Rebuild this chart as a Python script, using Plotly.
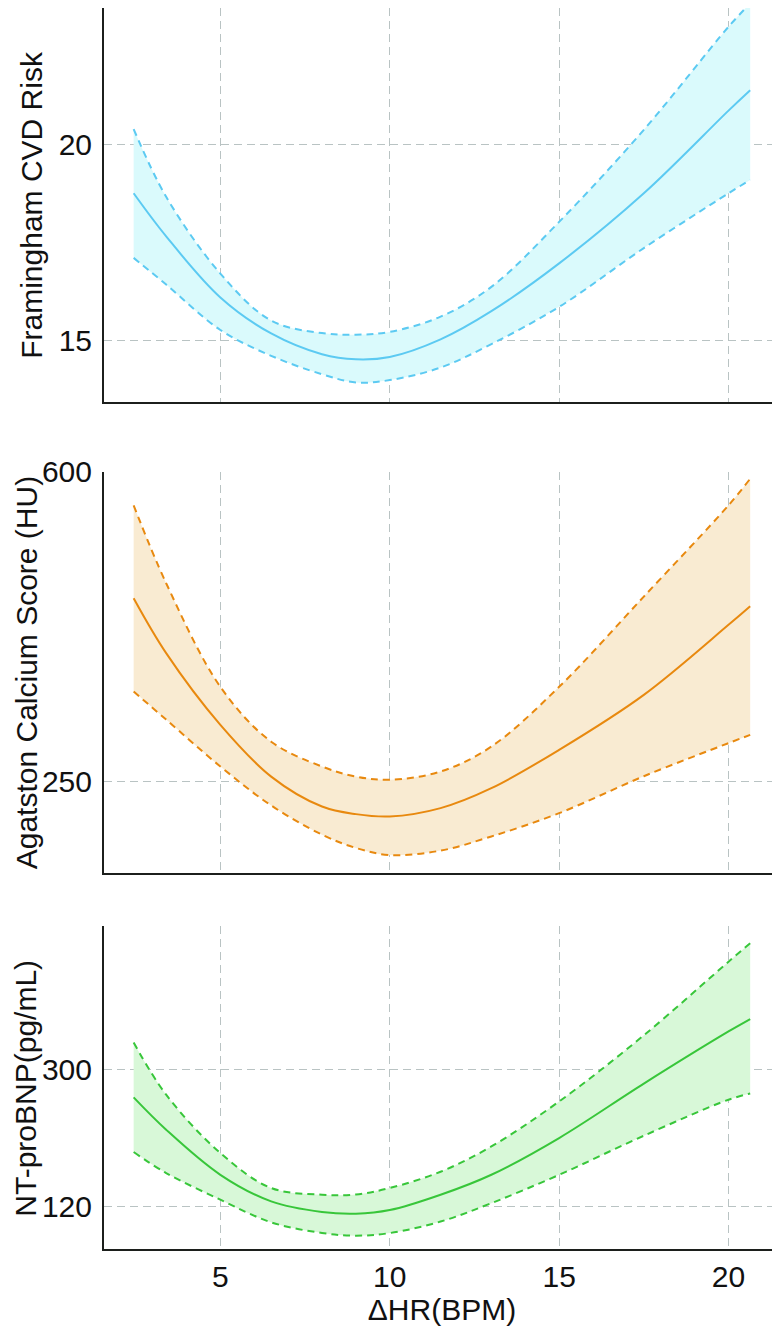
import plotly.graph_objects as go

# ---------------- data ----------------
hr = [2.44, 3.4, 5, 6.5, 8, 9, 10, 11.5, 13, 15, 17.5, 20, 20.64]

fram_mean = [18.75, 17.65, 16.09, 15.17, 14.64, 14.51, 14.57, 15.02, 15.74, 16.96, 18.75, 20.86, 21.38]
fram_upper = [20.39, 18.66, 16.70, 15.50, 15.18, 15.14, 15.21, 15.60, 16.36, 18.02, 20.37, 23.0, 23.6]
fram_lower = [17.10, 16.42, 15.26, 14.60, 14.13, 13.92, 13.98, 14.30, 14.90, 15.85, 17.35, 18.75, 19.09]

cac_mean = [457, 395, 314, 255.6, 221.8, 213.2, 210.5, 220, 242.5, 285.8, 347.9, 427, 448]
cac_upper = [562, 474, 357, 295, 267, 255.6, 252, 261.3, 289.5, 357, 458.9, 562, 592]
cac_lower = [351.6, 320, 267, 223, 190, 175, 167, 172, 188, 214.3, 256, 293.4, 302.7]

bnp_mean = [263, 220.8, 162, 127.3, 113.5, 111.3, 116, 136, 162.1, 210, 281, 349, 365.2]
bnp_upper = [334.7, 266.5, 190.4, 144.8, 136, 136.4, 144.8, 166, 199, 257.7, 344, 440, 464]
bnp_lower = [191.7, 164.3, 129.5, 100, 86.1, 82.6, 86, 101, 125, 162, 213, 260, 268]

x_ticks = [5, 10, 15, 20]
fram_ticks = [15, 20]
cac_ticks = [250, 600]
bnp_ticks = [120, 300]

titles = ["Framingham CVD Risk", "Agatston Calcium Score (HU)", "NT-proBNP(pg/mL)"]
x_title = "ΔHR(BPM)"

# ---------------- style ----------------
FONT = "Liberation Sans, Arial, Helvetica, sans-serif"
GRID = "#b9c3c3"
AXIS = "#1c1f1c"
# (mean, upper, lower, line colour, fill colour, y ticks, y range, y domain, title x in paper coords)
panels = [
    (fram_mean, fram_upper, fram_lower, "#5ccaf2", "rgba(218,250,252,1)", fram_ticks, [13.43, 23.48], [0.6828, 1.0], -0.1065),
    (cac_mean, cac_upper, cac_lower, "#e8890f", "rgba(249,235,210,1)", cac_ticks, [146.6, 600], [0.3029, 0.6264], -0.1155),
    (bnp_mean, bnp_upper, bnp_lower, "#38c63a", "rgba(216,248,216,1)", bnp_ticks, [65.2, 486], [0.0, 0.2599], -0.1155),
]

fig = go.Figure()
layout = dict(
    width=780, height=1337,
    margin=dict(l=96, r=8, t=0, b=95.7),
    paper_bgcolor="white", plot_bgcolor="white",
    showlegend=False,
    font=dict(family=FONT, size=30, color="#111"),
)
annotations = []

for i, (mean, up, lo, col, fillcol, yt, yr, dom, tx) in enumerate(panels):
    n = i + 1
    xa = "x" if n == 1 else f"x{n}"
    ya = "y" if n == 1 else f"y{n}"
    # band: lower edge (invisible) then upper edge filled to it
    fig.add_trace(go.Scatter(
        x=hr, y=lo, mode="lines", line=dict(width=0, shape="spline"),
        hoverinfo="skip", xaxis=xa, yaxis=ya))
    fig.add_trace(go.Scatter(
        x=hr, y=up, mode="lines", line=dict(width=0, shape="spline"),
        fill="tonexty", fillcolor=fillcol, hoverinfo="skip", xaxis=xa, yaxis=ya))
    for ser in (up, lo):
        fig.add_trace(go.Scatter(
            x=hr, y=ser, mode="lines",
            line=dict(color=col, width=2, dash="7px,5px", shape="spline"),
            xaxis=xa, yaxis=ya))
    fig.add_trace(go.Scatter(
        x=hr, y=mean, mode="lines", line=dict(color=col, width=2, shape="spline"),
        xaxis=xa, yaxis=ya))

    xkey = "xaxis" if n == 1 else f"xaxis{n}"
    ykey = "yaxis" if n == 1 else f"yaxis{n}"
    layout[xkey] = dict(
        domain=[0, 1], anchor=ya, range=[1.565, 21.52],
        tickvals=x_ticks, showticklabels=(n == 3),
        showgrid=True, gridcolor=GRID, gridwidth=1, griddash="8px,5px",
        showline=True, linecolor=AXIS, linewidth=2, zeroline=False,
        ticks="", automargin=False,
        tickfont=dict(size=30, family=FONT, color="#111"),
    )
    if n == 3:
        layout[xkey]["title"] = dict(text=x_title, font=dict(size=30, family=FONT, color="#111"), standoff=6)
    else:
        layout[xkey]["matches"] = "x3"
    layout[ykey] = dict(
        domain=dom, anchor=xa, range=yr, tickvals=yt,
        showgrid=True, gridcolor=GRID, gridwidth=1, griddash="8px,5px",
        showline=True, linecolor=AXIS, linewidth=2, zeroline=False,
        ticks="outside", ticklen=4, tickcolor="rgba(0,0,0,0)", automargin=False,
        tickfont=dict(size=30, family=FONT, color="#111"),
    )
    annotations.append(dict(
        text=titles[i], xref="paper", yref="paper", x=tx, y=(dom[0] + dom[1]) / 2,
        xanchor="center", yanchor="middle", textangle=-90, showarrow=False,
        borderpad=0, font=dict(size=30, family=FONT, color="#111"),
    ))

layout["annotations"] = annotations
fig.update_layout(**layout)
fig.write_html("out.html")
